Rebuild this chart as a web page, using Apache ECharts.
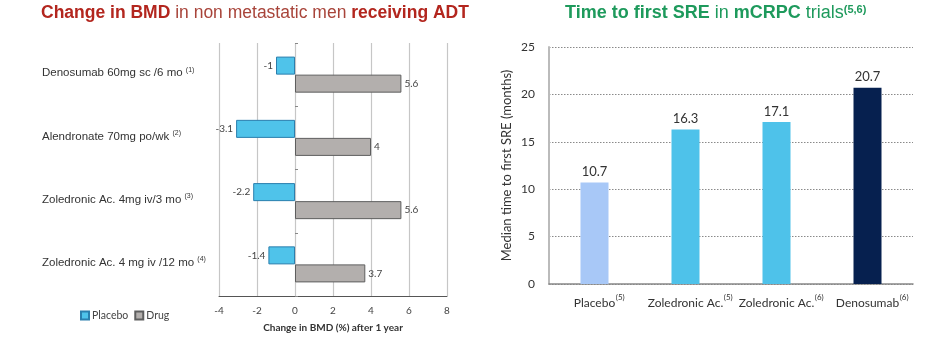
<!DOCTYPE html>
<html>
<head>
<meta charset="utf-8">
<script src="https://cdn.jsdelivr.net/npm/echarts@6/dist/echarts.min.js"></script>
<style>html,body{margin:0;padding:0;background:#fff;}#c{width:952px;height:345px;}</style>
</head>
<body>
<div id="c"></div>
<script>
// ---- Data: left chart (Change in BMD) ----
const bmdCategories = ['Denosumab 60mg sc /6 mo', 'Alendronate 70mg po/wk', 'Zoledronic Ac. 4mg iv/3 mo', 'Zoledronic Ac. 4 mg iv /12 mo'];
const bmdRefs = ['(1)', '(2)', '(3)', '(4)'];
const placeboValues = [-1, -3.1, -2.2, -1.4];
const drugValues = [5.6, 4, 5.6, 3.7];
const bmdAxisMin = -4, bmdAxisMax = 8, bmdAxisStep = 2;

// ---- Data: right chart (Time to first SRE) ----
const sreCategories = ['Placebo', 'Zoledronic Ac.', 'Zoledronic Ac.', 'Denosumab'];
const sreRefs = ['(5)', '(5)', '(6)', '(6)'];
const sreValues = [10.7, 16.3, 17.1, 20.7];
const sreAxisMin = 0, sreAxisMax = 25, sreAxisStep = 5;

// styles
const sreColors = ['#a8c8f7', '#4ec2ea', '#4ec2ea', '#06204f'];

const chart = echarts.init(document.getElementById('c'), null, {renderer: 'canvas'});
const arial = '"Liberation Sans", Arial, sans-serif';
const calib = 'Lato, "Open Sans", sans-serif';

const option = {
  animation: false,
  backgroundColor: '#fff',
  title: [
    {
      left: 41, top: 4, padding: 0,
      text: '{b|Change in BMD}{n| in non metastatic men }{b|receiving ADT}',
      textStyle: {
        rich: {
          b: {fontFamily: arial, fontSize: 17.5, fontWeight: 'bold', color: '#b3261e'},
          n: {fontFamily: arial, fontSize: 17.5, fontWeight: 'normal', color: '#a8443a'}
        }
      }
    },
    {
      left: 565, top: 4, padding: 0,
      text: '{b|Time to first SRE}{n| in }{b|mCRPC}{n| trials}{s|(5,6)}',
      textStyle: {
        rich: {
          b: {fontFamily: arial, fontSize: 18, fontWeight: 'bold', color: '#1e9a5c'},
          n: {fontFamily: arial, fontSize: 18, fontWeight: 'normal', color: '#1e9a5c'},
          s: {fontFamily: arial, fontSize: 11, color: '#1e9a5c', verticalAlign: 'top', padding: [0, 0, 8, 0]}
        }
      }
    }
  ],
  legend: {
    data: ['Placebo', 'Drug'],
    left: 75, top: 305,
    itemWidth: 8, itemHeight: 8, itemGap: 6,
    icon: 'rect',
    textStyle: {fontFamily: calib, fontSize: 10.5, color: '#444', padding: [0, 0, 0, -2]}
  },
  grid: [
    {left: 219, right: 505, top: 43, bottom: 49, containLabel: false},
    {left: 549, right: 39, top: 47, bottom: 61, containLabel: false}
  ],
  xAxis: [
    {
      gridIndex: 0, type: 'value', min: bmdAxisMin, max: bmdAxisMax, interval: bmdAxisStep,
      axisLine: {show: true, lineStyle: {color: '#555', width: 1}},
      axisTick: {show: false},
      axisLabel: {fontFamily: calib, fontSize: 10, color: '#444', margin: 10},
      splitLine: {show: true, lineStyle: {color: '#c6c6c6', width: 1.2, type: 'solid'}},
      name: 'Change in BMD (%) after 1 year', nameLocation: 'middle', nameGap: 27,
      nameTextStyle: {fontFamily: calib, fontSize: 10, fontWeight: 'bold', color: '#333'}
    },
    {
      gridIndex: 1, type: 'category', data: sreCategories,
      axisLine: {show: true, lineStyle: {color: '#888', width: 1.5}},
      axisTick: {show: false},
      axisLabel: {
        interval: 0, margin: 9,
        formatter: function (v, i) { return '{p|}{n|' + v + '}{s|' + sreRefs[i] + '}'; },
        rich: {
          p: {width: 10},
          n: {fontFamily: calib, fontSize: 12, color: '#333'},
          s: {fontFamily: calib, fontSize: 8, color: '#333', verticalAlign: 'top', padding: [0, 0, 12, 0], width: 10}
        }
      }
    }
  ],
  yAxis: [
    {
      gridIndex: 0, type: 'category', data: bmdCategories, inverse: true,
      axisLine: {show: false, onZero: false}, axisTick: {show: false},
      axisLabel: {
        align: 'left', margin: 177,
        formatter: function (v, i) { return '{n|' + v + ' }{s|' + bmdRefs[i] + '}'; },
        rich: {
          n: {fontFamily: arial, fontSize: 11.5, color: '#333', padding: [0, 0, 3, 0]},
          s: {fontFamily: arial, fontSize: 7, color: '#333', verticalAlign: 'top', padding: [0, 0, 10, 0]}
        }
      }
    },
    {
      gridIndex: 0, type: 'category', data: bmdCategories, inverse: true,
      axisLine: {show: false, onZero: true},
      axisTick: {show: true, length: 3, lineStyle: {color: '#888'}},
      axisLabel: {show: false}
    },
    {
      gridIndex: 1, type: 'value', min: sreAxisMin, max: sreAxisMax, interval: sreAxisStep,
      axisLine: {show: true, lineStyle: {color: '#bbb', width: 2}},
      axisTick: {show: false},
      axisLabel: {fontFamily: calib, fontSize: 12, color: '#333', margin: 14},
      splitLine: {show: true, lineStyle: {color: '#8a8a8a', width: 1, type: [1.5, 1.5]}},
      name: 'Median time to first SRE (months)', nameLocation: 'middle', nameGap: 36,
      nameTextStyle: {fontFamily: calib, fontSize: 13, color: '#333'}
    }
  ],
  series: [
    {
      name: 'Placebo', type: 'bar', xAxisIndex: 0, yAxisIndex: 0, data: placeboValues,
      barGap: '0%', barCategoryGap: '43%',
      itemStyle: {color: '#4fc3ea', borderColor: '#2b7fae', borderWidth: 1},
      label: {show: true, position: 'left', distance: 3, fontFamily: calib, fontSize: 10, color: '#444'}
    },
    {
      name: 'Drug', type: 'bar', xAxisIndex: 0, yAxisIndex: 0, data: drugValues,
      barGap: '0%', barCategoryGap: '43%',
      itemStyle: {color: '#b3afad', borderColor: '#5e5e5e', borderWidth: 1},
      label: {show: true, position: 'right', distance: 3, fontFamily: calib, fontSize: 10, color: '#444'}
    },
    {
      name: 'SRE', type: 'bar', xAxisIndex: 1, yAxisIndex: 2,
      data: sreValues.map(function (v, i) { return {value: v, itemStyle: {color: sreColors[i]}}; }),
      barWidth: 28,
      label: {show: true, position: 'top', distance: 4, fontFamily: calib, fontSize: 13, color: '#333'}
    }
  ]
};
chart.setOption(option);
</script>
</body>
</html>
